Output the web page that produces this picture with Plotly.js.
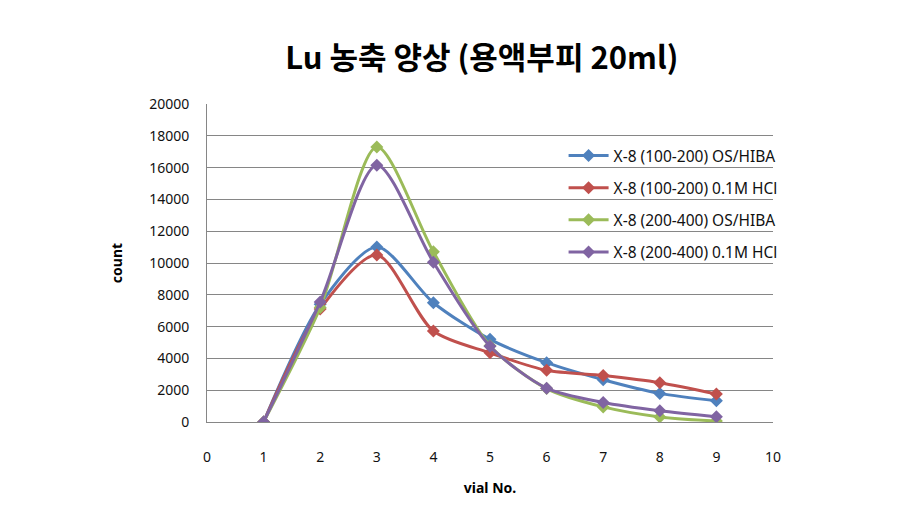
<!DOCTYPE html>
<html>
<head>
<meta charset="utf-8">
<script src="https://cdn.plot.ly/plotly-3.0.1.min.js"></script>
<style>html,body{margin:0;padding:0;background:#fff;}#chart{width:909px;height:519px;}</style>
</head>
<body>
<div id="chart"></div>
<script>
const vialNo = [1, 2, 3, 4, 5, 6, 7, 8, 9];
const seriesNames = [
  "X-8 (100-200) OS/HIBA",
  "X-8 (100-200) 0.1M HCl",
  "X-8 (200-400) OS/HIBA",
  "X-8 (200-400) 0.1M HCl"
];
const blue100OsHiba = [0, 7400, 11000, 7500, 5200, 3730, 2660, 1800, 1340];
const red100Hcl     = [0, 7100, 10500, 5720, 4350, 3250, 2920, 2470, 1760];
const green200OsHiba = [0, 7200, 17300, 10700, 4800, 2100, 950, 320, 60];
const purple200Hcl  = [0, 7550, 16150, 10050, 4760, 2130, 1230, 710, 330];
const colors = ["#4F81BD", "#C0504D", "#9BBB59", "#8064A2"];

const allSeries = [blue100OsHiba, red100Hcl, green200OsHiba, purple200Hcl];
const traces = allSeries.map((ys, i) => ({
  x: vialNo, y: ys, name: seriesNames[i], type: "scatter", mode: "lines+markers",
  legendgroup: "g" + i,
  line: {color: colors[i], width: 3, shape: "spline", smoothing: 0.8},
  marker: {symbol: "diamond", size: 10, color: colors[i]}
}));

const layout = {
  width: 909, height: 519,
  paper_bgcolor: "#fff", plot_bgcolor: "#fff",
  margin: {l: 207, r: 136, t: 104, b: 97},
  font: {family: "Noto Sans, Open Sans, sans-serif", size: 14, color: "#111"},
  title: {text: "Lu 농축 양상 (용액부피 20ml)", x: 0.53, xanchor: "center", y: 0.887, yanchor: "middle",
          font: {family: "Noto Sans CJK KR", size: 31, weight: "bold", color: "#000"}},
  xaxis: {range: [0, 10], dtick: 1, tick0: 0, showgrid: false, zeroline: false,
          showline: true, linecolor: "#868686", linewidth: 1, ticks: "", ticklabelstandoff: 22,
          tickfont: {size: 14},
          title: {text: "vial No.", standoff: 18, font: {size: 14, weight: "bold", color: "#000"}}},
  yaxis: {range: [0, 20000], dtick: 2000, tickformat: "d", showgrid: true, gridcolor: "#868686", gridwidth: 1,
          zeroline: false, showline: true, linecolor: "#868686", linewidth: 1, ticks: "",
          ticklabelstandoff: 14, tickfont: {size: 14},
          title: {text: "count", standoff: 23, font: {size: 14, weight: "bold", color: "#000"}}},
  showlegend: true,
  legend: {x: 0.63, xanchor: "left", y: 0.89, yanchor: "top", bgcolor: "rgba(0,0,0,0)",
           tracegroupgap: 9, font: {size: 15.5, color: "#111"}, itemwidth: 40}
};
Plotly.newPlot("chart", traces, layout, {displayModeBar: false});
</script>
</body>
</html>
